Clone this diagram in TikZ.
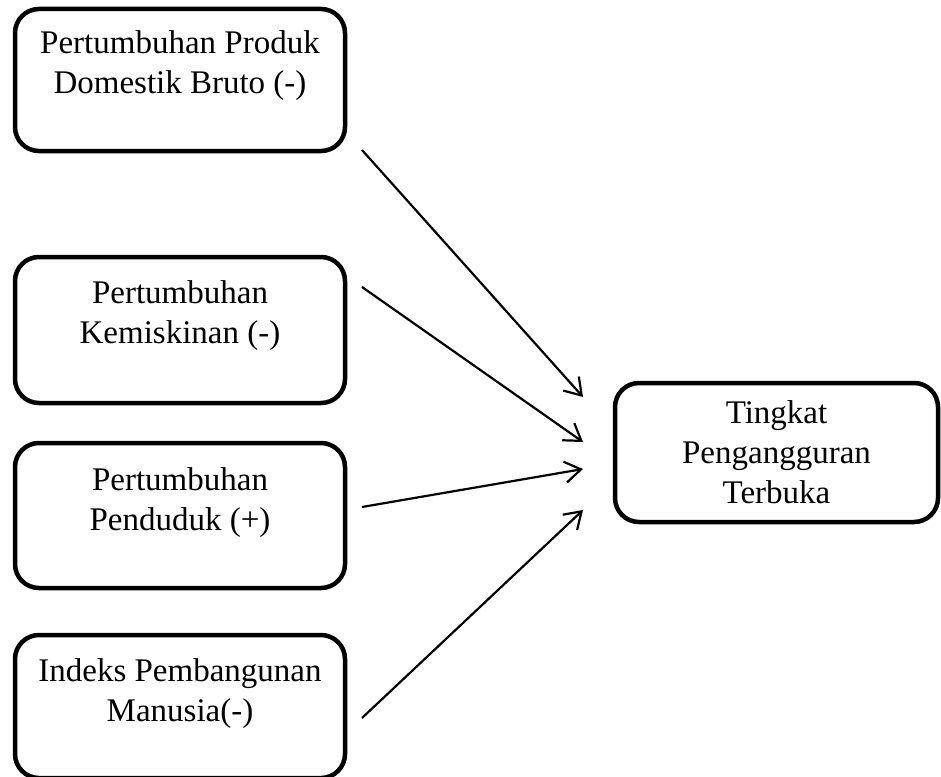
\documentclass[tikz,border=0pt]{standalone}
\usepackage{fontspec}
\setmainfont{Liberation Serif}
\usetikzlibrary{arrows.meta}

\begin{document}
\begin{tikzpicture}[x=1pt,y=-1pt,
  kotak/.style={draw,line width=4.5pt,rounded corners=24pt},
  teks/.style={align=center,inner sep=0pt,font=\fontsize{33}{40}\selectfont},
  panah/.style={line width=2.2pt,-{Straight Barb[length=16pt,width=21pt,line width=2.2pt]}}]
\useasboundingbox (0,0) rectangle (941,776);
% variabel bebas
\node[kotak,minimum width=330pt,minimum height=142pt] (pdb) at (180,80) {};
\node[teks,anchor=north] (pdbteks) at ([yshift=-24pt]pdb.north) {Pertumbuhan Produk\\Domestik Bruto (-)};
\node[kotak,minimum width=330pt,minimum height=146pt] (miskin) at (180,330) {};
\node[teks,anchor=north] (miskinteks) at ([yshift=-26pt]miskin.north) {Pertumbuhan\\Kemiskinan (-)};
\node[kotak,minimum width=330pt,minimum height=145pt] (pddk) at (180,515.5) {};
\node[teks,anchor=north] (pddkteks) at ([yshift=-27pt]pddk.north) {Pertumbuhan\\Penduduk (+)};
\node[kotak,minimum width=330pt,minimum height=143pt] (ipm) at (180,706.5) {};
\node[teks,anchor=north] (ipmteks) at ([yshift=-26pt]ipm.north) {Indeks Pembangunan\\Manusia(-)};
% variabel terikat
\node[kotak,minimum width=323pt,minimum height=139pt] (tpt) at (776.5,452.5) {};
\node[teks] (tptteks) at (tpt.center) {Tingkat\\Pengangguran\\Terbuka};
% ujung panah
\coordinate (a1) at (362,150);
\coordinate (a2) at (362,287);
\coordinate (a3) at (362,507);
\coordinate (a4) at (362,718);
\coordinate (b1) at (583,397);
\coordinate (b2) at (583,442);
\coordinate (b3) at (583,469);
\coordinate (b4) at (583,510);
\foreach \i in {1,2,3,4} {
   \draw[panah] (a\i) -- (b\i);
}
\end{tikzpicture}
\end{document}
